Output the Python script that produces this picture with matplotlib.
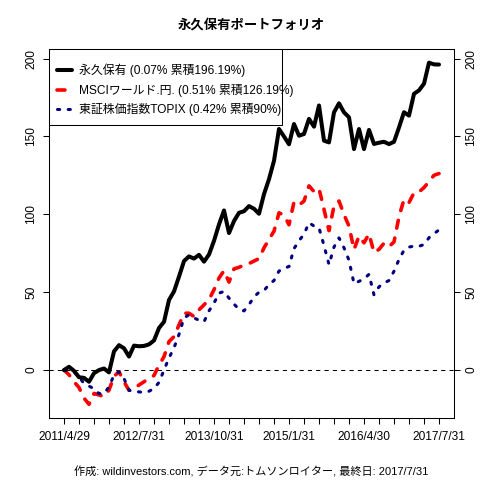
import matplotlib
matplotlib.use('Agg')
import matplotlib.pyplot as plt
from matplotlib.patches import Rectangle
import numpy as np

plt.rcParams['font.family'] = ['Liberation Sans', 'Noto Sans CJK JP', 'DejaVu Sans']

title = "永久保有ポートフォリオ"
caption = "作成: wildinvestors.com, データ元:トムソンロイター, 最終日: 2017/7/31"
series_names = ["永久保有 (0.07% 累積196.19%)",
                "MSCIワールド.円. (0.51% 累積126.19%)",
                "東証株価指数TOPIX (0.42% 累積90%)"]
tick_labels = ["2011/4/29", "2012/7/31", "2013/10/31", "2015/1/31", "2016/4/30", "2017/7/31"]
tick_months = [0, 15, 30, 45, 60, 75]
minor_tick_step = 3
y_ticks = [0, 50, 100, 150, 200]

permanent = [0, 2.1, -0.5, -4.6, -5.0, -7.5, -2.0, 0.0, 1.0, -1.5,
             12.0, 16.0, 14.0, 8.7, 15.7, 15.3, 15.5, 16.5, 19.0, 27.0,
             31.0, 45.0, 50.5, 60.0, 70.0, 73.0, 71.6, 74.0, 69.6, 74.2,
             83.0, 93.5, 102.5, 88.0, 95.7, 101.0, 102.0, 105.3, 103.6, 100.4,
             113.0, 122.6, 134.4, 154.8, 150.0, 145.0, 158.0, 150.5, 151.6, 161.3,
             156.3, 169.9, 147.3, 146.2, 165.5, 171.3, 165.5, 162.3, 141.9, 154.8,
             141.9, 154.2, 145.2, 146.0, 146.6, 145.1, 146.6, 155.8, 165.6, 163.4,
             177.4, 179.6, 183.9, 197.4, 196.3, 196.19]

msci = [0, -3.0, -7.5, -11.2, -18.0, -22.0, -15.0, -16.0, -17.0, -12.9,
        -4.0, -1.1, -7.5, -13.0, -11.8, -9.6, -7.5, -5.4, -3.5, 3.2,
        8.6, 18.3, 21.5, 29.0, 36.5, 36.5, 34.4, 38.7, 41.9, 45.2,
        51.6, 59.1, 63.8, 56.5, 65.0, 66.0, 67.4, 68.4, 70.0, 71.6,
        78.5, 83.9, 89.2, 101.0, 99.5, 93.3, 107.9, 106.0, 108.5, 118.3,
        114.6, 116.5, 103.2, 89.5, 105.4, 108.6, 99.9, 92.4, 77.4, 86.0,
        81.7, 87.5, 75.5, 77.5, 81.5, 79.3, 82.3, 98.5, 109.6, 107.5,
        113.9, 114.4, 117.2, 121.0, 125.1, 126.19]

topix = [0, -1.1, -1.1, -4.3, -8.6, -10.3, -12.0, -15.1, -15.1, -10.8,
         -3.2, -1.1, -5.4, -13.0, -13.6, -14.0, -14.4, -13.6, -11.8, -7.9,
         0.0, 7.8, 14.3, 22.9, 33.5, 35.5, 33.5, 32.0, 31.0, 38.0,
         43.0, 49.4, 50.5, 46.2, 42.4, 39.0, 38.0, 42.0, 47.0, 50.0,
         51.0, 55.0, 57.5, 63.6, 65.3, 66.5, 78.0, 83.0, 87.3, 94.6,
         92.5, 91.4, 80.0, 67.7, 79.0, 84.9, 78.5, 70.5, 55.5, 57.0,
         58.5, 61.5, 48.3, 53.5, 55.9, 57.5, 63.5, 71.0, 77.0, 79.0,
         79.6, 79.5, 80.6, 85.0, 87.6, 90.0]

months = np.arange(len(permanent))

fig = plt.figure(figsize=(4.8, 4.8), dpi=100)
AX_W, AX_H = 405, 369
ax = fig.add_axes([49/480, 62/480, AX_W/480, AX_H/480])

ax.axhline(0, color='black', lw=0.75, linestyle=(0, (4, 4)), zorder=1)
l1, = ax.plot(months, permanent, color='black', lw=2.9, solid_capstyle='round',
              solid_joinstyle='round', zorder=3)
l2, = ax.plot(months, msci, color='red', lw=2.6, linestyle=(0, (2.2, 2.8)),
              dash_capstyle='round', dash_joinstyle='round', zorder=2)
l3, = ax.plot(months, topix, color='navy', lw=2.2, linestyle=(0, (0.7, 2.8)),
              dash_capstyle='round', dash_joinstyle='round', zorder=2)

n = len(months) - 1
ax.set_xlim(-0.04 * n, n * 1.04)
allv = np.concatenate([permanent, msci, topix])
lo, hi = allv.min(), allv.max()
ext = 0.04 * (hi - lo)
ax.set_ylim(lo - ext, hi + ext)

xt = np.arange(0, n + 1, minor_tick_step)
ax.set_xticks(xt)
lab_map = dict(zip(tick_months, tick_labels))
ax.set_xticklabels([lab_map.get(int(t), "") for t in xt])
ax.set_yticks(y_ticks)
ax.set_yticklabels([str(v) for v in y_ticks])

ax.tick_params(axis='x', length=4.3, width=0.75, pad=4.8, labelsize=8.6, direction='out')
ax.tick_params(axis='y', length=4.3, width=0.75, pad=4, labelsize=8.6, direction='out',
               left=True, right=True, labelleft=True, labelright=True, labelrotation=90)
for lbl in ax.get_yticklabels():
    lbl.set_verticalalignment('center')
for s in ax.spines.values():
    s.set_linewidth(0.75)

leg = ax.legend([l1, l2, l3], series_names, loc='upper left',
                bbox_to_anchor=(-3/AX_W, 1 - 4/AX_H), borderaxespad=0,
                frameon=False, fontsize=8.6,
                handlelength=1.3, handletextpad=0.6, borderpad=0.9, labelspacing=0.55)
leg.set_zorder(5)
frame = Rectangle((0, 1 - 76/AX_H), 233/AX_W, 76/AX_H, transform=ax.transAxes,
                  facecolor='white', edgecolor='black', lw=0.75, zorder=4)
ax.add_patch(frame)

fig.text(251.5/480, 1 - 26/480, title, ha='center', va='center', fontsize=9.6,
         fontweight='bold')
fig.text(251/480, 1 - 472/480, caption, ha='center', va='center', fontsize=8.0)

fig.savefig('out.png', dpi=100, facecolor='white')
